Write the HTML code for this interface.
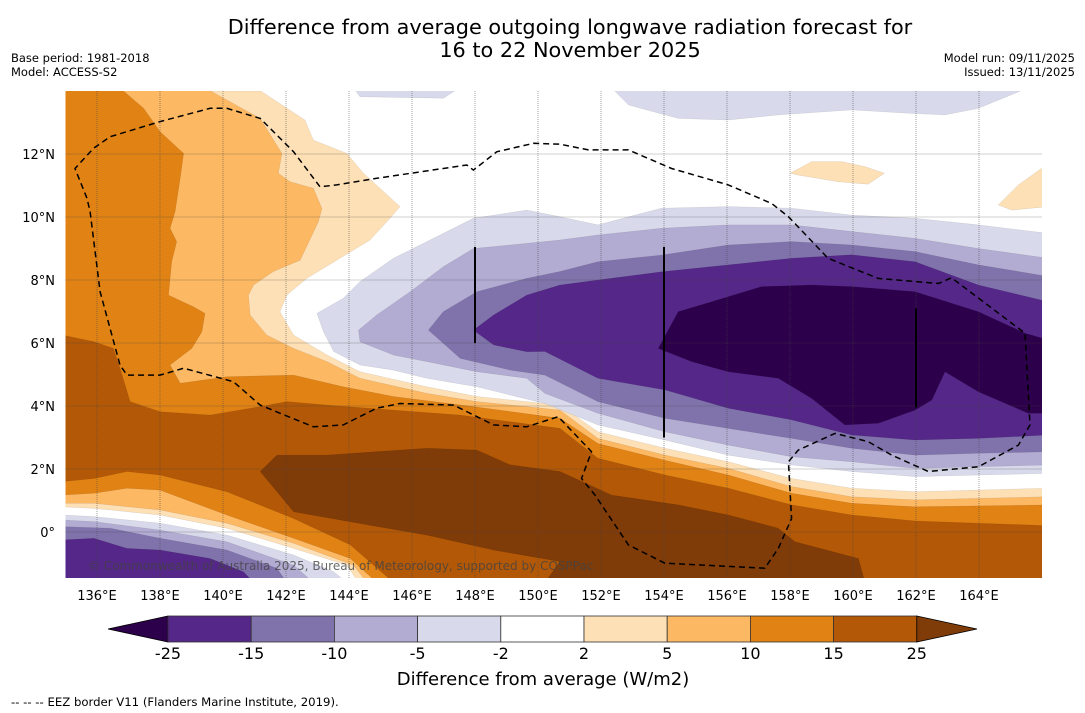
<!DOCTYPE html>
<html><head><meta charset="utf-8"><style>
html,body{margin:0;padding:0;background:#fff;}
svg{display:block;font-family:"DejaVu Sans","Liberation Sans",sans-serif;}
</style></head><body>
<svg id="chart" width="1085" height="713" viewBox="0 0 1085 713" xmlns="http://www.w3.org/2000/svg">
<text x="570" y="34" font-size="20.8" text-anchor="middle">Difference from average outgoing longwave radiation forecast for</text>
<text x="570" y="57" font-size="20.8" text-anchor="middle">16 to 22 November 2025</text>
<text x="11" y="62" font-size="11.5">Base period: 1981-2018</text>
<text x="11" y="76" font-size="11.5">Model: ACCESS-S2</text>
<text x="1075" y="62" font-size="11.5" text-anchor="end">Model run: 09/11/2025</text>
<text x="1075" y="76" font-size="11.5" text-anchor="end">Issued: 13/11/2025</text>
<defs><clipPath id="mapclip"><rect x="65.5" y="91" width="976.5" height="487"/></clipPath></defs>
<g id="map" clip-path="url(#mapclip)">
<rect x="65.5" y="91" width="976.5" height="487" fill="#ffffff"/>
<g id="fills"></g><g id="grid"></g><g id="eez"></g><g id="marks"></g>
</g>
<text x="88" y="570" font-size="12" fill="#444" fill-opacity="0.8">© Commonwealth of Australia 2025, Bureau of Meteorology, supported by COSPPac</text>
<g id="xticks"></g><g id="yticks"></g>
<g id="colorbar"></g>
<text x="543" y="685" font-size="18" text-anchor="middle">Difference from average (W/m2)</text>
<text x="11" y="706" font-size="11.7">--  --  -- EEZ border V11 (Flanders Marine Institute, 2019).</text>
</svg>
<script>
const lonTicks = [136,138,140,142,144,146,148,150,152,154,156,158,160,162,164];
const latTicks = [0,2,4,6,8,10,12];
const levels = [-25,-15,-10,-5,-2,2,5,10,15,25];
const levelColors = ["#2d004b","#542788","#8073ac","#b2abd2","#d8daeb","#ffffff","#fee0b6","#fdb863","#e08214","#b35806","#7f3b08"];
const O2 = [[135,14],[141.2,14],[142.6,13.08],[142.87,12.44],[143.93,12.02],[144.46,11.39],[145.62,10.33],[145.3,9.96],[144.67,9.27],[143.61,8.63],[142.66,8.05],[142.03,7.52],[141.81,6.99],[142.24,6.25],[143.3,5.62],[144.35,5.09],[146.47,4.61],[148.06,4.3],[150.7,4.03],[151.9,3.18],[154.03,2.66],[156.04,2.23],[158.05,1.7],[159.96,1.39],[161.97,1.28],[166.2,1.39],[166.2,-1.6],[144.3,-1.6],[143.93,-1.05],[142.24,-0.52],[140.12,0.12],[138,0.54],[135.9,0.75],[134.9,0.8]];
const O2b = [[158.0,11.39],[158.69,11.76],[159.64,11.76],[160.38,11.6],[161.0,11.39],[160.48,11.04],[159.53,11.12],[158.26,11.33]];
const O2c = [[166.2,11.7],[165.25,11.02],[164.61,10.38],[165.04,10.22],[166.2,10.33]];
const O5 = [[135,14.1],[139.43,14.1],[141.18,13.13],[141.87,12.02],[141.76,11.39],[142.13,11.12],[142.87,10.91],[143.14,10.27],[143.03,9.85],[142.45,8.63],[141.6,8.27],[140.97,7.84],[140.81,7.52],[140.86,6.89],[141.39,6.25],[142.24,5.83],[143.3,5.41],[144.35,4.88],[146.47,4.4],[148.06,4.14],[150.7,3.87],[151.9,2.97],[154.03,2.44],[156.04,2.02],[158.05,1.44],[159.96,1.12],[161.97,1.02],[166.2,1.12],[166.2,-1.6],[144.57,-1.6],[144.14,-1.05],[142.24,-0.36],[140.12,0.28],[138,0.7],[135.9,0.91],[134.9,0.91]];
const O10 = [[134.9,14.1],[136.73,14.1],[137.48,13.45],[138.0,12.71],[138.75,12.02],[138.64,11.23],[138.48,10.17],[138.32,9.64],[138.53,9.22],[138.37,8.58],[138.27,7.52],[139.06,7.15],[139.43,6.94],[139.33,6.36],[139.01,5.83],[138.32,5.3],[138.64,4.72],[140.12,4.93],[142.24,4.98],[143.82,4.61],[145.41,4.3],[147.95,3.98],[150.7,3.61],[151.9,2.81],[154.03,2.28],[156.04,1.81],[158.05,1.23],[159.96,0.91],[161.97,0.8],[166.2,0.86],[166.2,-1.6],[144.88,-1.6],[144.04,-0.84],[142.24,-0.2],[140.12,0.54],[138,1.33],[136.95,1.39],[135.9,1.23],[134.9,1.17]];
const O15 = [[134.9,6.25],[135.9,6.04],[136.52,5.83],[136.73,5.2],[137.05,4.14],[138,3.82],[139.59,3.71],[141.18,3.98],[142.03,4.14],[143.3,4.03],[145.41,3.87],[147.53,3.71],[149.12,3.5],[150.7,3.29],[151.9,2.34],[154.03,1.81],[156.04,1.39],[158.05,0.86],[159.96,0.54],[161.97,0.35],[166.2,0.2],[166.2,-1.6],[145.41,-1.6],[144.04,-0.41],[142.24,0.43],[140.12,1.28],[138,1.81],[136.95,1.92],[135.9,1.7],[134.9,1.6]];
const O25 = [[141.18,1.92],[141.71,2.44],[143.3,2.44],[146.47,2.66],[148.06,2.6],[149.12,2.13],[150.7,1.92],[152.34,1.17],[154.45,0.86],[156.04,0.54],[157.63,0.12],[158.16,-0.31],[160.17,-0.84],[160.38,-1.6],[150.22,-1.6],[150.7,-0.94],[148.59,-0.57],[146.47,-0.1],[144.35,0.27],[142.24,0.64]];
const P2top1 = [[144.14,14.1],[147.5,14.1],[147.0,13.77],[144.35,13.82]];
const P2top2 = [[152.34,14.1],[165.56,14.1],[163.98,13.45],[162.92,13.24],[161.86,13.29],[159.96,13.4],[157.63,13.24],[156.04,13.08],[154.45,13.13],[152.87,13.56]];
const P2c = [[142.98,6.94],[143.82,7.42],[144.35,7.95],[145.41,8.69],[146.47,9.22],[147.95,9.96],[149.64,10.22],[150.7,10.01],[151.9,9.75],[153.92,10.28],[156.04,10.33],[158.05,10.28],[159.96,10.06],[161.97,9.96],[163.98,9.75],[166.2,9.48],[166.2,1.86],[163.98,1.81],[161.97,1.76],[159.96,1.92],[158.05,2.13],[156.04,2.44],[154.03,2.92],[151.9,3.4],[150.22,4.08],[148.06,4.61],[146.47,4.88],[145.41,5.14],[144.35,5.3],[143.51,5.73],[143.19,6.36]];
const P5c = [[144.3,6.41],[144.88,6.89],[145.94,7.63],[146.99,8.42],[147.95,9.0],[149.12,9.11],[150.7,9.27],[151.9,9.43],[153.92,9.64],[156.04,9.75],[158.05,9.75],[159.96,9.54],[161.97,9.32],[163.98,9.0],[166.2,8.69],[166.2,2.13],[163.98,2.07],[161.97,2.02],[159.96,2.23],[158.05,2.39],[156.04,2.76],[154.03,3.18],[151.9,3.77],[150.22,4.4],[149.64,4.88],[148.06,5.09],[146.47,5.41],[145.41,5.62],[144.35,6.04]];
const P10c = [[146.52,6.41],[146.99,6.99],[148.06,7.63],[149.64,8.05],[150.7,8.27],[151.9,8.58],[153.92,8.79],[156.04,9.11],[158.05,9.22],[159.96,9.11],[161.97,8.9],[163.98,8.48],[166.2,8.11],[166.2,2.55],[163.98,2.5],[161.97,2.44],[159.96,2.66],[158.05,2.97],[156.04,3.29],[154.03,3.61],[151.9,4.14],[150.22,4.98],[149.12,5.14],[147.53,5.51]];
const P15c = [[147.95,6.41],[148.59,6.89],[149.64,7.52],[150.7,7.84],[151.9,8.0],[153.92,8.26],[156.04,8.48],[158.05,8.69],[159.96,8.8],[161.97,8.58],[163.98,7.84],[166.2,7.31],[166.2,3.08],[163.98,2.97],[161.97,2.92],[159.96,3.08],[158.05,3.56],[156.04,3.93],[154.03,4.51],[151.9,4.88],[150.22,5.73],[149.64,5.72],[148.59,5.94]];
const P25c = [[153.82,5.83],[154.45,6.99],[155.51,7.31],[157.1,7.79],[158.69,7.84],[159.96,7.79],[161.97,7.63],[163.98,6.99],[165.46,6.31],[166.2,6.1],[166.2,3.77],[165.56,3.77],[163.98,4.45],[162.92,5.09],[162.5,4.19],[161.97,3.87],[160.8,3.45],[159.74,3.4],[158.69,4.24],[157.63,4.88],[156.04,5.09],[154.88,5.41]];
const P2bl = [[134.9,0.54],[135.9,0.49],[138,0.28],[140.12,-0.1],[142.24,-0.73],[143.51,-1.26],[143.93,-1.6],[134.9,-1.6]];
const P5bl = [[134.9,0.38],[135.9,0.33],[138,0.06],[140.12,-0.31],[142.24,-1.05],[142.87,-1.6],[134.9,-1.6]];
const P10bl = [[134.9,0.17],[136.42,0.12],[138,-0.2],[140.12,-0.57],[141.71,-1.15],[142.03,-1.6],[134.9,-1.6]];
const P15bl = [[134.9,-0.25],[135.9,-0.2],[136.95,-0.52],[138,-0.57],[139.59,-0.84],[140.65,-1.26],[140.97,-1.6],[134.9,-1.6]];
const eezLine = [[135.68,10.6],[135.3,11.54],[135.89,12.18],[136.42,12.55],[138,13.03],[139.59,13.45],[140.12,13.45],[141.18,13.13],[142.24,12.07],[143.08,10.96],[143.61,11.02],[144.88,11.23],[147.74,11.65],[147.95,11.49],[148.69,12.07],[149.86,12.34],[150.7,12.31],[151.6,12.13],[152.87,12.13],[154.24,11.54],[156.04,11.02],[157.42,10.43],[157.95,10.01],[159.21,8.69],[160.8,8.05],[162.71,7.89],[163.13,8.07],[165.46,6.31],[165.62,3.4],[165.25,2.76],[163.98,2.07],[162.39,1.92],[161.23,2.44],[160.48,2.87],[159.43,3.13],[158.26,2.6],[157.95,2.23],[158.05,0.43],[157.63,-0.52],[157.2,-1.15],[154.03,-0.99],[152.87,-0.41],[151.81,1.17],[151.38,1.7],[151.7,2.55],[150.64,3.66],[149.64,3.34],[148.59,3.4],[147.32,4.03],[145.62,4.08],[144.88,3.93],[143.82,3.4],[142.87,3.34],[141.18,4.03],[140.33,4.77],[138.75,5.2],[138,4.98],[136.95,4.98],[136.73,5.3],[136.1,7.63],[135.78,10.17],[135.68,10.6]];
const meridianSegs = [[148,9.05,6.0],[154,9.05,3.0],[162,7.1,3.95]];

const NS = "http://www.w3.org/2000/svg";
const LON0 = 135, LAT0 = 14, PX = 31.5, X0 = 65.5, Y0 = 91;
function xs(lon){ return X0 + (lon - LON0) * PX; }
function ys(lat){ return Y0 + (LAT0 - lat) * PX; }
function pts(arr){ return arr.map(p => xs(p[0]).toFixed(1) + "," + ys(p[1]).toFixed(1)).join(" "); }
function mk(tag, attrs, parent){ const e = document.createElementNS(NS, tag); for (const k in attrs) e.setAttribute(k, attrs[k]); parent.appendChild(e); return e; }

const fills = document.getElementById("fills");
const layers = [
  [O2,6,"fill-2-to-5"],[O2b,6,"fill-2-to-5-north"],[O2c,6,"fill-2-to-5-northeast"],
  [O5,7,"fill-5-to-10"],[O10,8,"fill-10-to-15"],[O15,9,"fill-15-to-25"],[O25,10,"fill-above-25"],
  [P2top1,4,"fill-minus2-north-west"],[P2top2,4,"fill-minus2-north"],
  [P2c,4,"fill-minus2-central"],[P5c,3,"fill-minus5-central"],[P10c,2,"fill-minus10-central"],[P15c,1,"fill-minus15-central"],[P25c,0,"fill-below-minus25-central"],
  [P2bl,4,"fill-minus2-southwest"],[P5bl,3,"fill-minus5-southwest"],[P10bl,2,"fill-minus10-southwest"],[P15bl,1,"fill-minus15-southwest"]
];
layers.forEach(L => {
  const el = mk("polygon", {points: pts(L[0]), fill: levelColors[L[1]], stroke: "#000", "stroke-opacity": 0.12, "stroke-width": 0.5}, fills);
  
  
});

const grid = document.getElementById("grid");
lonTicks.forEach(l => {
  const g = mk("line", {x1: xs(l), x2: xs(l), y1: 91, y2: 578, stroke: "#444", "stroke-opacity": 0.5, "stroke-width": 1, "stroke-dasharray": "1,1"}, grid);
  
  
});
latTicks.forEach(l => {
  const g = mk("line", {x1: 65.5, x2: 1042, y1: ys(l), y2: ys(l), stroke: "#444", "stroke-opacity": 0.5, "stroke-width": 1, "stroke-dasharray": "1,1"}, grid);
  
  
});

const eez = document.getElementById("eez");
const eel = mk("polyline", {points: pts(eezLine), fill: "none", stroke: "#000", "stroke-width": 1.5, "stroke-dasharray": "6,4"}, eez);



const marks = document.getElementById("marks");
meridianSegs.forEach(s => {
  const m = mk("line", {x1: xs(s[0]), x2: xs(s[0]), y1: ys(s[1]), y2: ys(s[2]), stroke: "#000", "stroke-width": 2}, marks);
  
  
});

const xt = document.getElementById("xticks");
lonTicks.forEach(l => {
  const t = mk("text", {x: xs(l), y: 600, "font-size": 13, "text-anchor": "middle"}, xt);
  t.textContent = l + "°E";
  
  
});
const yt = document.getElementById("yticks");
latTicks.forEach(l => {
  const t = mk("text", {x: 55, y: ys(l) + 5, "font-size": 13, "text-anchor": "end"}, yt);
  t.textContent = l === 0 ? "0°" : l + "°N";
  
  
});

const cb = document.getElementById("colorbar");
const CB0 = 168, CBW = 83.2, CBY = 616, CBH = 26;
function cbx(i){ return CB0 + i * CBW; }
const lt = mk("polygon", {points: `108,${CBY+CBH/2} ${CB0},${CBY} ${CB0},${CBY+CBH}`, fill: levelColors[0], stroke: "#000", "stroke-width": 0.8}, cb);


for (let i = 0; i < levels.length - 1; i++) {
  const r = mk("rect", {x: cbx(i), y: CBY, width: CBW, height: CBH, fill: levelColors[i+1], stroke: "#333", "stroke-width": 0.8}, cb);
  
  
}
const rt = mk("polygon", {points: `${cbx(9)},${CBY} 977,${CBY+CBH/2} ${cbx(9)},${CBY+CBH}`, fill: levelColors[10], stroke: "#000", "stroke-width": 0.8}, cb);


levels.forEach((v, i) => {
  const t = mk("text", {x: cbx(i), y: 659, "font-size": 16, "text-anchor": "middle"}, cb);
  t.textContent = v;
  
  
});
</script>
</body></html>
